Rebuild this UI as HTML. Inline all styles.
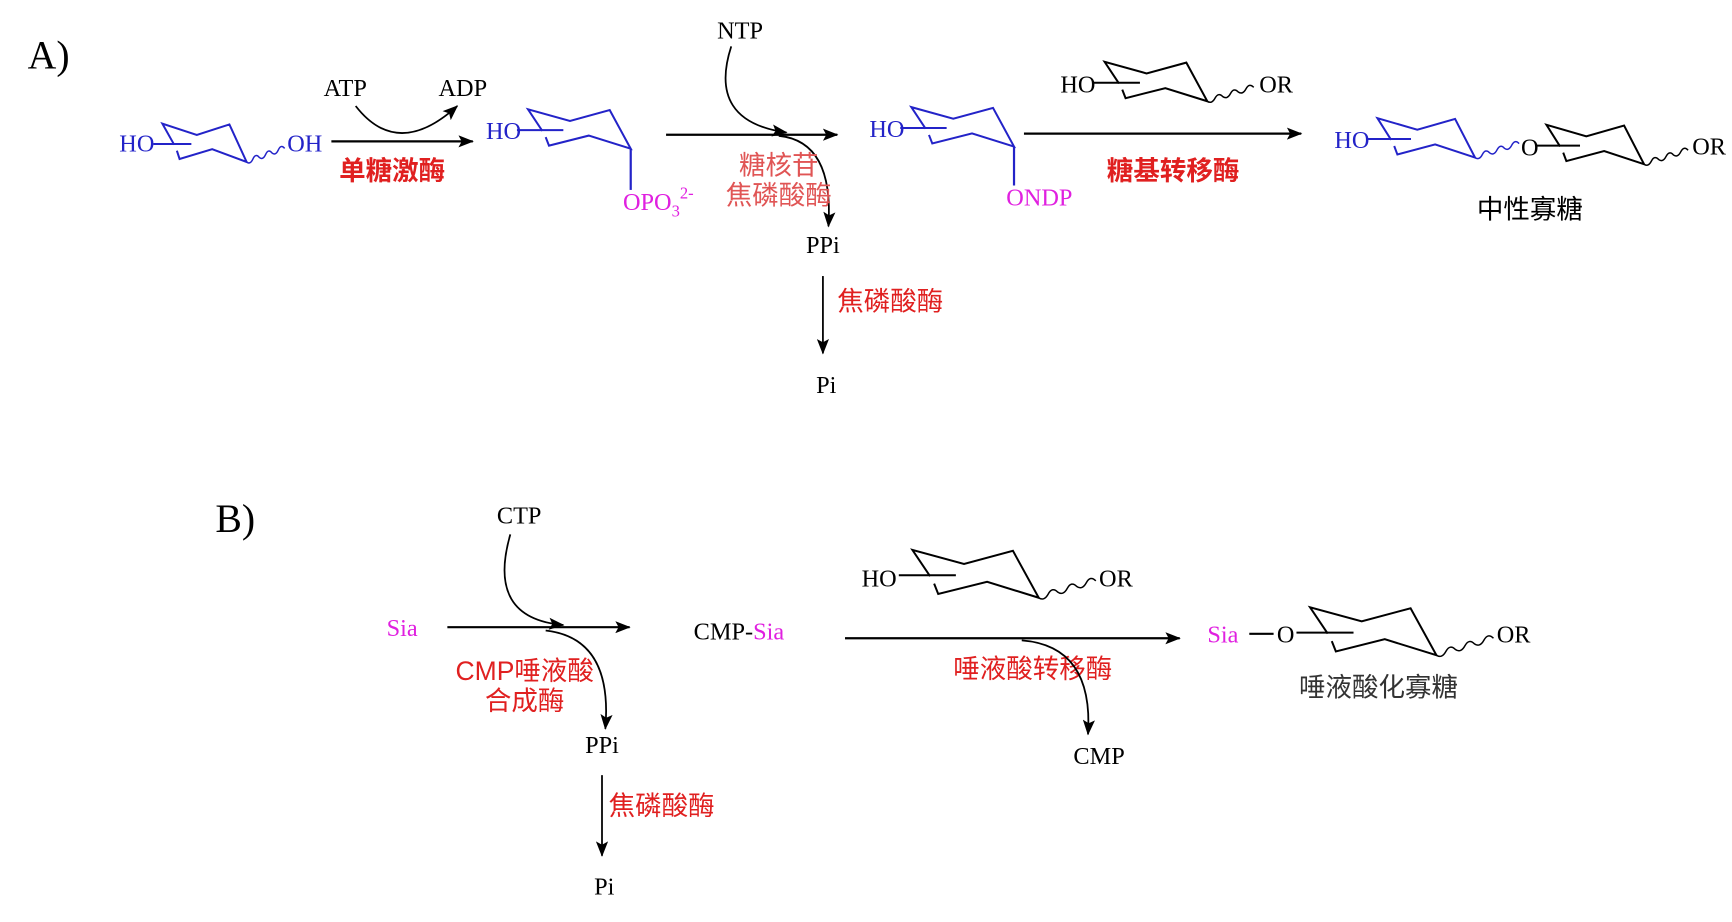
<!DOCTYPE html>
<html><head><meta charset="utf-8"><style>
html,body{margin:0;padding:0;background:#fff}
svg{display:block}
text{font-family:"Liberation Serif","Noto Serif CJK SC",serif;font-size:22px}
.cn{font-family:"Liberation Sans","Noto Sans CJK SC",sans-serif;font-size:24px}
</style></head><body>
<svg width="1732" height="922" viewBox="0 0 1568 835" preserveAspectRatio="none" xmlns="http://www.w3.org/2000/svg">
<defs>
<marker id="ah" markerWidth="14" markerHeight="11" refX="13" refY="5.5" orient="auto" markerUnits="userSpaceOnUse">
<path d="M0,0 L14,5.5 L0,11 L3,5.5 Z" fill="#000"/></marker>
<g id="ring"><path d="M13,28 L0,0 L38,15 L74,1 L93,51 L55,34 L19,47 L16,36" fill="none" stroke-width="2" vector-effect="non-scaling-stroke"/><path d="M-10,27 L32,27" fill="none" stroke-width="2" vector-effect="non-scaling-stroke"/></g>
<g id="ringw"><use href="#ring"/><path d="M93,51 q4,4 7,-4 q3,-8 7,-2 q4,4 7,-4 q3,-8 7,-2 q4,4 7,-4 q3,-8 7,-2" fill="none" stroke-width="1.5" vector-effect="non-scaling-stroke"/></g>
</defs>

<text x="25" y="62" style="font-size:36px">A)</text>
<text x="108" y="137" fill="#2323c8">HO</text>
<g stroke="#2323c8" transform="translate(147,112) scale(0.82,0.68)"><use href="#ringw"/></g>
<text x="260" y="137" fill="#2323c8">OH</text>
<line x1="300" y1="128" x2="428" y2="128" stroke="#000" stroke-width="2" marker-end="url(#ah)"/>
<text x="293" y="87">ATP</text><text x="397" y="87">ADP</text>
<path d="M322,96 Q360,145 414,96" fill="none" stroke="#000" stroke-width="1.6" marker-end="url(#ah)"/>
<text class="cn" x="355" y="163" fill="#e02020" text-anchor="middle" font-weight="bold">单糖激酶</text>
<text x="440" y="126" fill="#2323c8">HO</text>
<g stroke="#2323c8" transform="translate(478,99) scale(1,0.7)"><use href="#ring"/></g>
<line x1="571" y1="135" x2="571" y2="172" stroke="#2323c8" stroke-width="2"/>
<text x="564" y="190" fill="#e020e0">OPO<tspan font-size="15" dy="6">3</tspan><tspan font-size="15" dy="-16">2-</tspan></text>
<line x1="603" y1="122" x2="758" y2="122" stroke="#000" stroke-width="2" marker-end="url(#ah)"/>
<text x="670" y="35" text-anchor="middle">NTP</text>
<path d="M662,42 Q640,110 712,120" fill="none" stroke="#000" stroke-width="1.6" marker-end="url(#ah)"/>
<path d="M705,123 Q755,128 750,205" fill="none" stroke="#000" stroke-width="1.6" marker-end="url(#ah)"/>
<text class="cn" x="705" y="158" fill="#e05555" text-anchor="middle">糖核苷</text>
<text class="cn" x="705" y="185" fill="#e05555" text-anchor="middle">焦磷酸酶</text>
<text x="745" y="229" text-anchor="middle">PPi</text>
<line x1="745" y1="250" x2="745" y2="320" stroke="#000" stroke-width="1.6" marker-end="url(#ah)"/>
<text class="cn" x="758" y="281" fill="#e02020">焦磷酸酶</text>
<text x="748" y="356" text-anchor="middle">Pi</text>
<text x="787" y="124" fill="#2323c8">HO</text>
<g stroke="#2323c8" transform="translate(825,97) scale(1,0.7)"><use href="#ring"/></g>
<line x1="918" y1="133" x2="918" y2="168" stroke="#2323c8" stroke-width="2"/>
<text x="911" y="186" fill="#e020e0">ONDP</text>
<line x1="927" y1="121" x2="1178" y2="121" stroke="#000" stroke-width="2" marker-end="url(#ah)"/>
<text x="960" y="84">HO</text>
<g stroke="#000" transform="translate(1000,56) scale(1,0.7)"><use href="#ringw"/></g>
<text x="1140" y="84">OR</text>
<text class="cn" x="1062" y="163" fill="#e02020" text-anchor="middle" font-weight="bold">糖基转移酶</text>
<text x="1208" y="134" fill="#2323c8">HO</text>
<g stroke="#2323c8" transform="translate(1247,107) scale(0.95,0.7)"><use href="#ringw"/></g>
<text x="1377" y="141">O</text>
<g stroke="#000" transform="translate(1400,113) scale(0.95,0.7)"><use href="#ringw"/></g>
<text x="1532" y="140">OR</text>
<text class="cn" x="1385" y="198" fill="#000" text-anchor="middle">中性寡糖</text>

<text x="195" y="482" style="font-size:36px">B)</text>
<text x="470" y="474" text-anchor="middle">CTP</text>
<text x="350" y="576" fill="#e020e0">Sia</text>
<line x1="405" y1="568" x2="570" y2="568" stroke="#000" stroke-width="2" marker-end="url(#ah)"/>
<path d="M462,484 Q440,560 510,566" fill="none" stroke="#000" stroke-width="1.6" marker-end="url(#ah)"/>
<path d="M494,571 Q555,578 548,660" fill="none" stroke="#000" stroke-width="1.6" marker-end="url(#ah)"/>
<text class="cn" x="475" y="616" fill="#e02020" text-anchor="middle">CMP唾液酸</text>
<text class="cn" x="475" y="643" fill="#e02020" text-anchor="middle">合成酶</text>
<text x="545" y="682" text-anchor="middle">PPi</text>
<line x1="545" y1="702" x2="545" y2="775" stroke="#000" stroke-width="1.6" marker-end="url(#ah)"/>
<text class="cn" x="551" y="738" fill="#e02020">焦磷酸酶</text>
<text x="547" y="810" text-anchor="middle">Pi</text>
<text x="628" y="579">CMP-<tspan fill="#e020e0">Sia</tspan></text>
<line x1="765" y1="578" x2="1068" y2="578" stroke="#000" stroke-width="2" marker-end="url(#ah)"/>
<text x="780" y="531">HO</text>
<g stroke="#000" transform="translate(826,498) scale(1.23,0.85)"><use href="#ringw"/></g>
<text x="995" y="531">OR</text>
<text class="cn" x="935" y="614" fill="#e02020" text-anchor="middle">唾液酸转移酶</text>
<path d="M925,580 Q990,585 985,665" fill="none" stroke="#000" stroke-width="1.6" marker-end="url(#ah)"/>
<text x="995" y="692" text-anchor="middle">CMP</text>
<text x="1093" y="582" fill="#e020e0">Sia</text>
<line x1="1131" y1="574" x2="1153" y2="574" stroke="#000" stroke-width="2"/>
<text x="1156" y="582">O</text>
<g stroke="#000" transform="translate(1186,550) scale(1.23,0.85)"><use href="#ringw"/></g>
<text x="1355" y="582">OR</text>
<text class="cn" x="1248" y="631" fill="#333" text-anchor="middle">唾液酸化寡糖</text>
</svg>
</body></html>
